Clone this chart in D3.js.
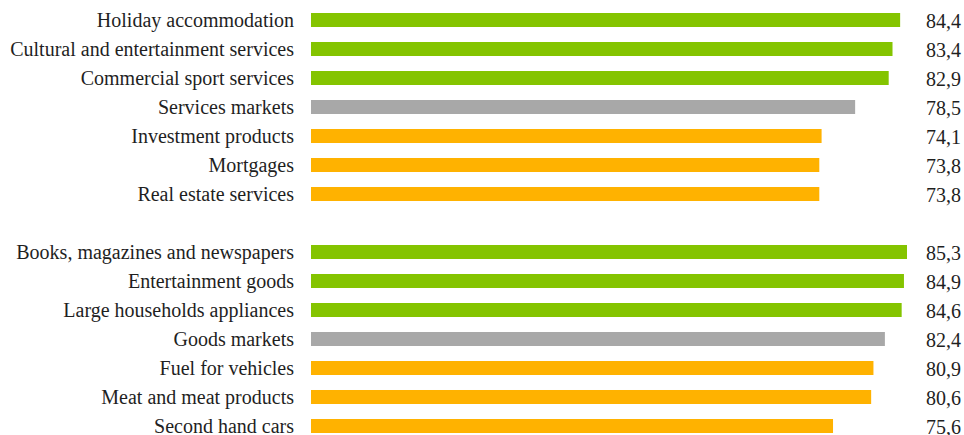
<!DOCTYPE html>
<html>
<head>
<meta charset="utf-8">
<script src="https://cdn.jsdelivr.net/npm/d3@7"></script>
<style>
  html, body { margin: 0; padding: 0; background: #ffffff; }
  svg { display: block; }
  text { font-family: "Liberation Serif", "DejaVu Serif", serif; fill: #1f1f1f; }
</style>
</head>
<body>
<svg id="chart" width="964" height="435"></svg>
<script>
// Services group
const serviceLabels = [
  "Holiday accommodation",
  "Cultural and entertainment services",
  "Commercial sport services",
  "Services markets",
  "Investment products",
  "Mortgages",
  "Real estate services"
];
const serviceValues = [84.4, 83.4, 82.9, 78.5, 74.1, 73.8, 73.8];
const serviceKinds = ["top", "top", "top", "avg", "low", "low", "low"];

// Goods group
const goodsLabels = [
  "Books, magazines and newspapers",
  "Entertainment goods",
  "Large households appliances",
  "Goods markets",
  "Fuel for vehicles",
  "Meat and meat products",
  "Second hand cars"
];
const goodsValues = [85.3, 84.9, 84.6, 82.4, 80.9, 80.6, 75.6];
const goodsKinds = ["top", "top", "top", "avg", "low", "low", "low"];

const kindColors = { top: "#84c400", avg: "#a8a8a8", low: "#ffb200" };

// Build rows: services, a blank spacer slot, then goods
const rows = [];
serviceLabels.forEach((l, i) => rows.push({ key: "s" + i, label: l, value: serviceValues[i], kind: serviceKinds[i] }));
const spacerKey = "gap";
goodsLabels.forEach((l, i) => rows.push({ key: "g" + i, label: l, value: goodsValues[i], kind: goodsKinds[i] }));
const slotKeys = rows.slice(0, 7).map(d => d.key).concat([spacerKey], rows.slice(7).map(d => d.key));

const svg = d3.select("#chart");

const y = d3.scaleBand()
  .domain(slotKeys)
  .range([5.5, 440.5])
  .paddingInner(0.517)
  .paddingOuter(0.2585);

const x = d3.scaleLinear()
  .domain([7.15, 85.3])
  .range([311, 907]);

const fmt = v => d3.format(".1f")(v).replace(".", ",");

const g = svg.append("g");

g.selectAll("rect.bar")
  .data(rows)
  .join("rect")
  .attr("class", "bar")
  .attr("x", x(x.domain()[0]))
  .attr("y", d => y(d.key))
  .attr("width", d => x(d.value) - x(x.domain()[0]))
  .attr("height", y.bandwidth())
  .attr("fill", d => kindColors[d.kind]);

g.selectAll("text.cat")
  .data(rows)
  .join("text")
  .attr("class", "cat")
  .attr("x", 294)
  .attr("y", d => y(d.key) + y.bandwidth() / 2 + 7.3)
  .attr("text-anchor", "end")
  .style("font-size", "20px")
  .text(d => d.label);

g.selectAll("text.val")
  .data(rows)
  .join("text")
  .attr("class", "val")
  .attr("x", 961)
  .attr("y", d => y(d.key) + y.bandwidth() / 2 + 8)
  .attr("text-anchor", "end")
  .style("font-size", "20px")
  .text(d => fmt(d.value));
</script>
</body>
</html>
